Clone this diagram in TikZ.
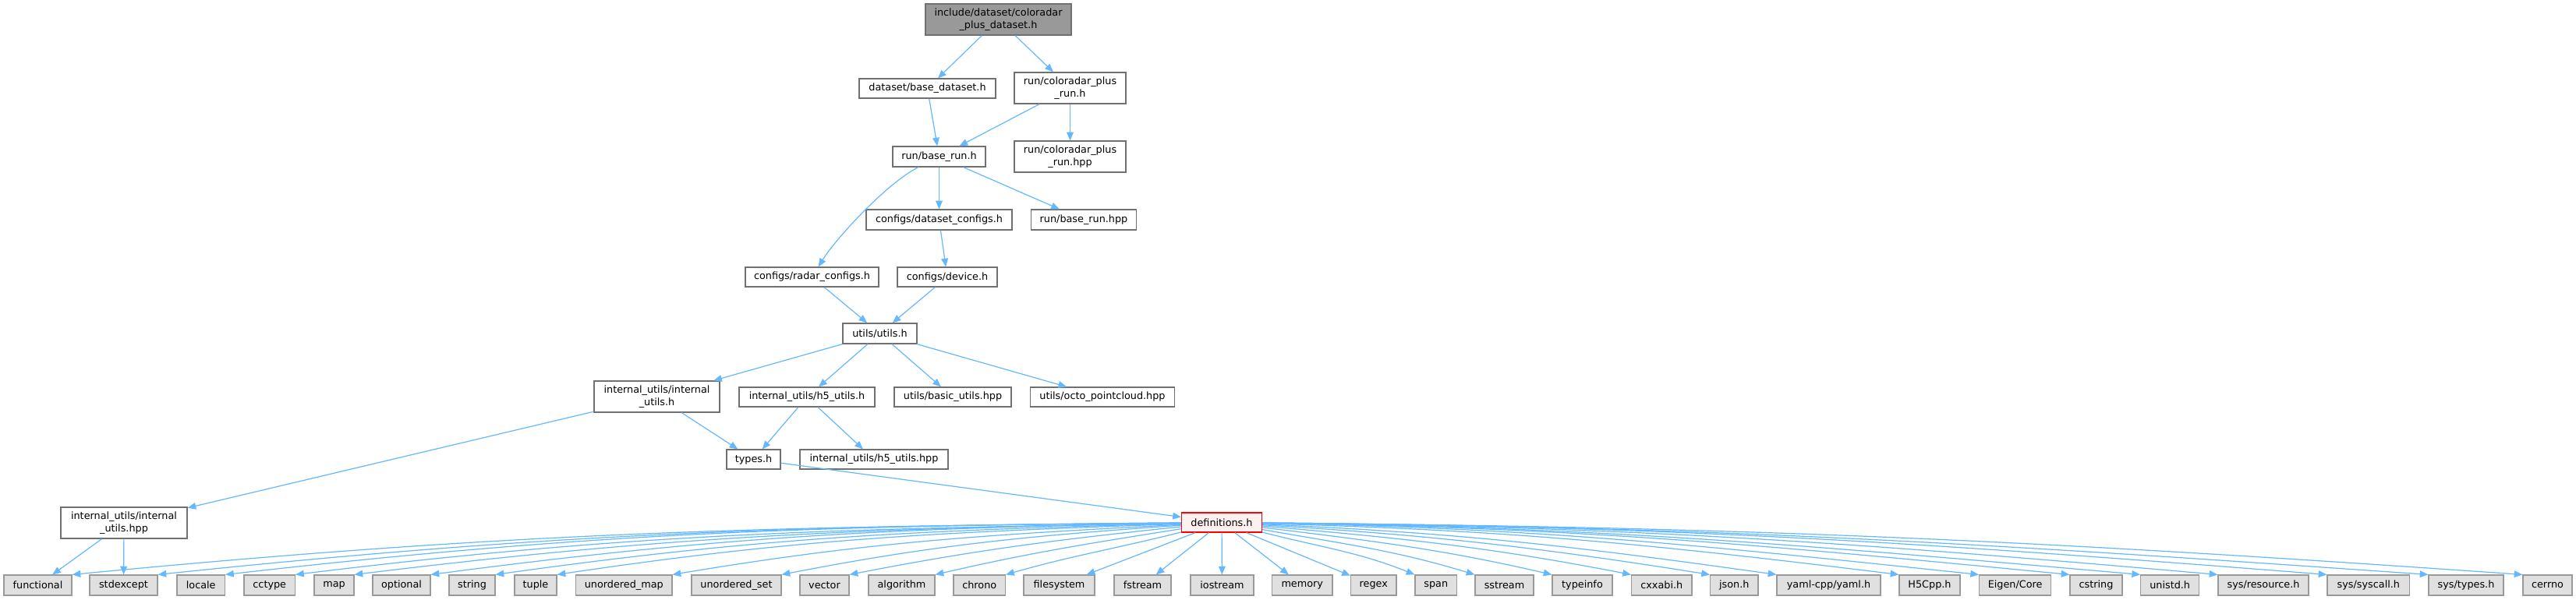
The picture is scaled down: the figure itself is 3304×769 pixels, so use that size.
\documentclass[tikz,border=0pt]{standalone}
\usepackage{fontspec}
\setmainfont{DejaVu Sans}
\usetikzlibrary{arrows.meta,calc}
\definecolor{edgec}{HTML}{63B8FF}
\definecolor{bordc}{HTML}{707070}
\definecolor{topfill}{HTML}{999999}
\definecolor{sysfill}{HTML}{E0E0E0}
\definecolor{sysbord}{HTML}{999999}
\definecolor{deffill}{HTML}{FFF0F0}
\definecolor{defbord}{HTML}{FF0000}
\begin{document}
\begin{tikzpicture}[x=0.75pt,y=0.75pt,
  box/.style={draw=bordc, line width=0.9pt, fill=white, inner sep=0pt, align=center,
    font=\fontsize{9.6}{11.8}\selectfont, text=black},
  bw/.style={minimum width={#1*0.75pt}},
  bh/.style={minimum height={#1*0.75pt}},
  rootbox/.style={box, fill=topfill},
  sysbox/.style={box, draw=sysbord, fill=sysfill, minimum height=19.5pt},
  defbox/.style={box, draw=defbord, fill=deffill},
  edge/.style={draw=edgec, line width=0.9pt, -{Triangle[length=8pt,width=6.5pt]}}
]
\useasboundingbox (0,0) rectangle (3304,-769);
\fill[white] (0,0) rectangle (3304,-769);

\node[rootbox,bw=187,bh=40] (top) at (1280.5,-25) {include/dataset/coloradar\\\_plus\_dataset.h};
\node[box,bw=175,bh=25] (bds) at (1189.5,-113.5) {dataset/base\_dataset.h};
\node[box,bw=143,bh=40] (cpr) at (1372.5,-113) {run/coloradar\_plus\\\_run.h};
\node[box,bw=119,bh=26] (br) at (1204.5,-201) {run/base\_run.h};
\node[box,bw=143,bh=40] (cprhpp) at (1372.5,-201) {run/coloradar\_plus\\\_run.hpp};
\node[box,bw=187,bh=26] (dsc) at (1204.5,-282) {configs/dataset\_configs.h};
\node[box,bw=135,bh=26] (brhpp) at (1390,-282) {run/base\_run.hpp};
\node[box,bw=171,bh=25] (rc) at (1041.5,-355.5) {configs/radar\_configs.h};
\node[box,bw=128,bh=25] (dev) at (1215,-355.5) {configs/device.h};
\node[box,bw=95,bh=26] (uu) at (1128.5,-428) {utils/utils.h};
\node[box,bw=161,bh=40] (iu) at (842.5,-509) {internal\_utils/internal\\\_utils.h};
\node[box,bw=174,bh=25] (h5) at (1035,-509.5) {internal\_utils/h5\_utils.h};
\node[box,bw=150,bh=25] (bu) at (1222,-509.5) {utils/basic\_utils.hpp};
\node[box,bw=185,bh=25] (oc) at (1414,-509.5) {utils/octo\_pointcloud.hpp};
\node[box,bw=69,bh=25] (ty) at (966.5,-589.5) {types.h};
\node[box,bw=190,bh=25] (h5hpp) at (1121,-589.5) {internal\_utils/h5\_utils.hpp};
\node[box,bw=162,bh=40] (iuhpp) at (159,-671) {internal\_utils/internal\\\_utils.hpp};
\node[defbox,bw=103,bh=25] (def) at (1567,-670.5) {definitions.h};

\foreach \n/\c/\w/\t in {
  functional/48.5/87/{functional}, stdexcept/158.5/87/{stdexcept}, locale/257.75/61.5/{locale},
  cctype/345.75/65.5/{cctype}, map/428.5/51/{map}, optional/515/74/{optional},
  string/605.5/59/{string}, tuple/687/54/{tuple}, umap/800.25/123.5/{unordered\_map},
  uset/944.5/115/{unordered\_set}, vector/1057.5/63/{vector}, algorithm/1156.5/85/{algorithm},
  chrono/1256.25/66.5/{chrono}, filesystem/1358.5/91/{filesystem}, fstream/1465.5/73/{fstream},
  iostream/1567.5/81/{iostream}, memory/1670.25/77.5/{memory}, regex/1761.75/58.5/{regex},
  span/1841.8/53.6/{span}, sstream/1929.5/75/{sstream}, typeinfo/2029.5/77/{typeinfo},
  cxxabi/2131.25/77.5/{cxxabi.h}, json/2224.3/61.4/{json.h}, yaml/2345.5/133/{yaml-cpp/yaml.h},
  hfive/2475/78/{H5Cpp.h}, eigen/2584.65/92/{Eigen/Core}, cstring/2688.5/67/{cstring},
  unistd/2783.15/75/{unistd.h}, sysres/2903/116/{sys/resource.h}, syscall/3037.85/105.7/{sys/syscall.h},
  systypes/3163/96/{sys/types.h}, cerrno/3267.5/63/{cerrno}}
  \node[sysbox,bw=\w] (\n) at (\c,-751) {\t};

\draw[edge] (top) -- (bds);
\draw[edge] (top) -- (cpr);
\draw[edge] (bds) -- (br);
\draw[edge] (cpr) -- (br);
\draw[edge] (cpr) -- (cprhpp);
\draw[edge] (br.207) .. controls +(-40,-20) and +(22,36) .. (rc.58);
\draw[edge] (br) -- (dsc);
\draw[edge] (br) -- (brhpp);
\draw[edge] (dsc) -- (dev);
\draw[edge] (rc) -- (uu);
\draw[edge] (dev) -- (uu);
\draw[edge] (uu) -- (iu);
\draw[edge] (uu) -- (h5);
\draw[edge] (uu) -- (bu);
\draw[edge] (uu) -- (oc);
\draw[edge] (iu) -- (iuhpp);
\draw[edge] (iu) -- (ty);
\draw[edge] (h5) -- (ty);
\draw[edge] (h5) -- (h5hpp);
\draw[edge] (ty) -- (def);
\draw[edge] (iuhpp) -- (functional);
\draw[edge] (iuhpp) -- (stdexcept);

\foreach \t/\x/\o/\i in {functional/92/0.5/5.5, stdexcept/202/0.5/6, locale/288.5/0.5/6.5,
  cctype/378.5/1/7, map/454/1/7, optional/552/1/7.5, string/635/1.5/8, tuple/714/2/8.5,
  umap/862/3/9.5, uset/1002/4/11, vector/1089/6/11, algorithm/1199/9/13, chrono/1289.5/14/16}
{
  \pgfmathsetmacro\dy{min(12.5,51.5*tan(\o))}
  \pgfmathsetmacro\L{0.39*(1515.5-\x)}
  \pgfmathsetmacro\ay{-\L*tan(\o)}
  \pgfmathsetmacro\bx{\L*cos(\i)}
  \pgfmathsetmacro\by{\L*sin(\i)}
  \draw[edge] ($(def.west)+(0,-\dy)$) .. controls +(-\L,\ay) and +(\bx,\by) .. (\t.north east);
}

\foreach \t in {filesystem, fstream, iostream, memory, regex}
  \draw[edge] (def) -- (\t);

\foreach \t/\x/\o/\i in {span/1815/14.4/22, sstream/1892/10/17, typeinfo/1991/7/13,
  cxxabi/2092.5/5/11, json/2193.6/3.5/9, yaml/2279/2.5/8, hfive/2436/1.5/7, eigen/2538.6/1/6,
  cstring/2655/0.8/5.5, unistd/2745.6/0.7/5, sysres/2845/0.6/5, syscall/2985/0.5/4.5,
  systypes/3115/0.5/4, cerrno/3236/0.5/4}
{
  \pgfmathsetmacro\dy{min(12.5,51.5*tan(\o))}
  \pgfmathsetmacro\L{0.39*(\x-1618.5)}
  \pgfmathsetmacro\ay{-\L*tan(\o)}
  \pgfmathsetmacro\bx{-\L*cos(\i)}
  \pgfmathsetmacro\by{\L*sin(\i)}
  \draw[edge] ($(def.east)+(0,-\dy)$) .. controls +(\L,\ay) and +(\bx,\by) .. (\t.north west);
}
\end{tikzpicture}
\end{document}
